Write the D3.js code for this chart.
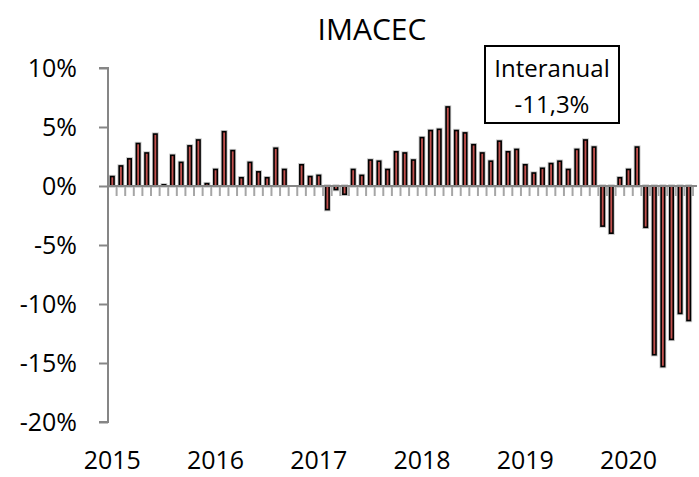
<!DOCTYPE html>
<html>
<head>
<meta charset="utf-8">
<script src="https://cdn.jsdelivr.net/npm/d3@7"></script>
<style>
  body { margin: 0; background: #fff; }
  text { font-family: "Open Sans", sans-serif; fill: #000; }
</style>
</head>
<body>
<div id="chart"></div>
<script>
// IMACEC, variación interanual (%), ene 2015 - ago 2020
const years = ['2015', '2016', '2017', '2018', '2019', '2020'];
const v2015 = [0.8, 1.7, 2.3, 3.6, 2.8, 4.4, 0.1, 2.6, 2.0, 3.4, 3.9, 0.2];
const v2016 = [1.4, 4.6, 3.0, 0.7, 2.0, 1.2, 0.7, 3.2, 1.4, 0.0, 1.8, 0.8];
const v2017 = [0.9, -2.0, -0.3, -0.7, 1.4, 0.9, 2.2, 2.1, 1.4, 2.9, 2.8, 2.2];
const v2018 = [4.1, 4.7, 4.8, 6.7, 4.7, 4.5, 3.5, 2.8, 2.1, 3.8, 2.9, 3.1];
const v2019 = [1.8, 1.1, 1.5, 1.9, 2.1, 1.4, 3.1, 3.9, 3.3, -3.4, -4.0, 0.7];
const v2020 = [1.4, 3.3, -3.5, -14.3, -15.3, -13.0, -10.8, -11.4];
const yTicks = [10, 5, 0, -5, -10, -15, -20];
const title = 'IMACEC';
const boxLines = ['Interanual', '-11,3%'];

let visConfig = {
  width: 699,
  height: 477,
  left: 108,
  right: 693,
  top: 68,
  bottom: 422
};

// one row per month
let data = [];
[v2015, v2016, v2017, v2018, v2019, v2020].forEach((vals, yi) => {
  vals.forEach((v, mi) => {
    data.push({ key: years[yi] + '-' + (mi + 1), year: years[yi], month: mi, value: v });
  });
});

let svg = d3.select('#chart')
  .append('svg')
  .attr('width', visConfig.width)
  .attr('height', visConfig.height);

let xscale = d3.scaleBand()
  .domain(data.map(d => d.key))
  .range([visConfig.left, visConfig.right])
  .paddingInner(0.6)
  .paddingOuter(0.3);

let yscale = d3.scaleLinear()
  .domain([-20, 10])
  .range([visConfig.bottom, visConfig.top]);

const axisColor = '#868686';

// x tick marks between months (drawn behind bars)
let step = xscale.step();
let x0 = visConfig.left;
svg.append('g')
  .selectAll('line')
  .data(d3.range(1, data.length + 1))
  .enter()
  .append('line')
  .attr('x1', k => x0 + k * step)
  .attr('x2', k => x0 + k * step)
  .attr('y1', yscale(0))
  .attr('y2', yscale(0) + 10)
  .attr('stroke', '#a6a6a6')
  .attr('stroke-width', 2);

// bars
let bars = svg.append('g');
let shown = data.filter(d => d.value !== 0);

bars.selectAll('.halo')
  .data(shown)
  .enter()
  .append('rect')
  .attr('class', 'halo')
  .attr('x', d => xscale(d.key))
  .attr('y', d => yscale(Math.max(0, d.value)))
  .attr('width', xscale.bandwidth())
  .attr('height', d => Math.abs(yscale(d.value) - yscale(0)))
  .attr('fill', 'none')
  .attr('stroke', '#c8c8c8')
  .attr('stroke-width', 3.4);

bars.selectAll('.bar')
  .data(shown)
  .enter()
  .append('rect')
  .attr('class', 'bar')
  .attr('x', d => xscale(d.key))
  .attr('y', d => yscale(Math.max(0, d.value)))
  .attr('width', xscale.bandwidth())
  .attr('height', d => Math.abs(yscale(d.value) - yscale(0)))
  .attr('fill', '#c0504d')
  .attr('stroke', '#000')
  .attr('stroke-width', 1.6);

// x axis line
svg.append('line')
  .attr('x1', visConfig.left)
  .attr('x2', visConfig.right + 4)
  .attr('y1', yscale(0))
  .attr('y2', yscale(0))
  .attr('stroke', axisColor)
  .attr('stroke-width', 2);

// y axis
let leftAxis = d3.axisLeft(yscale)
  .tickValues(yTicks)
  .tickSize(9)
  .tickPadding(22)
  .tickFormat(d => d + '%');

let yaxis = svg.append('g')
  .attr('transform', `translate(${visConfig.left}, 0)`)
  .call(leftAxis);

yaxis.select('.domain')
  .attr('stroke', axisColor)
  .attr('stroke-width', 2)
  .attr('d', `M-9,${visConfig.top}H0V${visConfig.bottom}H-9`);
yaxis.selectAll('.tick line')
  .attr('stroke', axisColor)
  .attr('stroke-width', 2);
yaxis.selectAll('.tick text')
  .attr('font-size', 25)
  .attr('font-family', '"Open Sans", sans-serif')
  .attr('fill', '#000');

// year labels under January of each year
svg.append('g')
  .selectAll('text')
  .data(years)
  .enter()
  .append('text')
  .attr('x', d => xscale(d + '-1') + xscale.bandwidth() / 2)
  .attr('y', 469)
  .attr('text-anchor', 'middle')
  .attr('font-size', 25)
  .text(d => d);

// title
svg.append('text')
  .attr('x', 372)
  .attr('y', 40)
  .attr('text-anchor', 'middle')
  .attr('font-size', 30)
  .text(title);

// annotation box
let box = svg.append('g');
box.append('rect')
  .attr('x', 485)
  .attr('y', 46)
  .attr('width', 134)
  .attr('height', 77)
  .attr('fill', '#fff')
  .attr('stroke', '#000')
  .attr('stroke-width', 2);

box.selectAll('text')
  .data(boxLines)
  .enter()
  .append('text')
  .attr('x', 552)
  .attr('y', (d, i) => 77 + i * 36)
  .attr('text-anchor', 'middle')
  .attr('font-size', 24)
  .text(d => d);
</script>
</body>
</html>
